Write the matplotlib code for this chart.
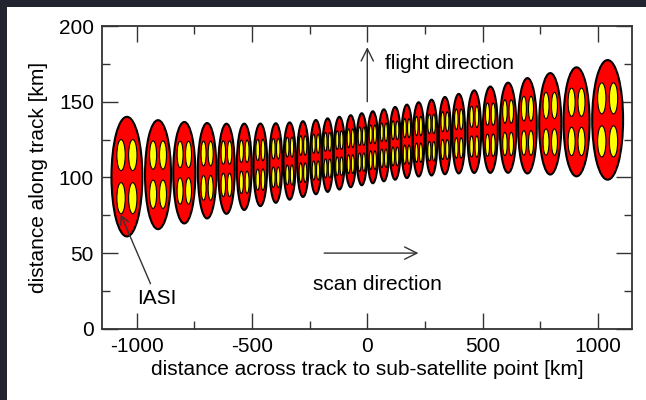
import matplotlib
matplotlib.use('Agg')
import matplotlib.pyplot as plt
from matplotlib.patches import Ellipse, Rectangle
from matplotlib.ticker import MultipleLocator

plt.rcParams['font.family'] = ['Liberation Sans', 'DejaVu Sans']
plt.rcParams['font.size'] = 15
plt.rcParams['axes.unicode_minus'] = False

# footprint (EFOV) centres and sizes in km, left to right across the scan
efov_x = [-1043, -908, -794, -695, -611, -534, -464, -397, -337, -279, -223, -172, -121, -72, -24,
          24, 72, 121, 172, 223, 279, 337, 397, 464, 534, 611, 695, 794, 908, 1043]
efov_y = [100.5, 101.8, 103.1, 104.4, 105.7, 107.0, 108.3, 109.5, 110.8, 112.1, 113.4, 114.7, 116.0, 117.3, 118.6,
          119.9, 121.2, 122.5, 123.8, 125.1, 126.3, 127.6, 128.9, 130.2, 131.5, 132.8, 134.1, 135.4, 136.7, 138.0]
efov_w = [134, 113, 96, 81, 72, 65, 60, 56, 53, 51, 50, 49, 49, 48, 48,
          48, 48, 49, 49, 50, 51, 53, 56, 60, 65, 72, 81, 96, 113, 134]
efov_h = [79, 72, 67, 63, 59.5, 57, 54.5, 52.5, 51, 50, 49, 48.5, 48, 47.5, 47.5,
          47.5, 47.5, 48, 48.5, 49, 50, 51, 52.5, 54.5, 57, 59.5, 63, 67, 72, 79]

# 2x2 IFOVs inside each EFOV, relative to the EFOV size
ifov_dx = 0.19
ifov_dy = 0.18
ifov_w = 0.27
ifov_h = 0.26

fig = plt.figure(figsize=(6.46, 4.0), dpi=100)
fig.patch.set_facecolor('#22252f')
fig.add_artist(Rectangle((7 / 646, 0), 1, 1 - 7 / 400, transform=fig.transFigure,
                         facecolor='white', edgecolor='none', zorder=-10))
ax = fig.add_axes([0.1583, 0.178, 0.8205, 0.757])

for x, y, w, h in zip(efov_x, efov_y, efov_w, efov_h):
    ax.add_patch(Ellipse((x, y), w, h, facecolor='red', edgecolor='black', lw=1.5, zorder=2))
    for sx in (-1, 1):
        for sy in (-1, 1):
            ax.add_patch(Ellipse((x + sx * ifov_dx * w, y + sy * ifov_dy * h), ifov_w * w, ifov_h * h,
                                 facecolor='yellow', edgecolor='black', lw=0.8, zorder=3))

arrow = dict(arrowstyle='->', color='#333333', lw=1.0, mutation_scale=22, shrinkA=0, shrinkB=0)
ax.annotate('', xy=(0, 186), xytext=(0, 150), arrowprops=arrow, zorder=5)
ax.text(76, 175.5, 'flight direction', ha='left', va='center')
ax.annotate('', xy=(222, 50), xytext=(-187, 50), arrowprops=arrow, zorder=5)
ax.text(46, 29, 'scan direction', ha='center', va='center')
ax.annotate('IASI', xy=(-1070, 75.5), xytext=(-913, 20), ha='center', va='center', zorder=5,
            arrowprops=dict(arrowstyle='->', color='#333333', lw=1.0, mutation_scale=15, shrinkB=0))

ax.set_xlim(-1150, 1150)
ax.set_ylim(0, 200)
ax.xaxis.set_major_locator(MultipleLocator(500))
ax.xaxis.set_minor_locator(MultipleLocator(250))
ax.yaxis.set_major_locator(MultipleLocator(50))
ax.yaxis.set_minor_locator(MultipleLocator(25))
ax.tick_params(which='both', direction='in', top=True, right=True, width=1.0, colors='#333333',
               labelcolor='black')
ax.tick_params(which='major', length=11.5, pad=6)
ax.tick_params(which='minor', length=5.5)
for s in ax.spines.values():
    s.set_linewidth(1.3)
    s.set_color('#333333')

ax.set_xlabel('distance across track to sub-satellite point [km]', labelpad=3)
ax.set_ylabel('distance along track [km]', labelpad=8)

fig.savefig('out.png', dpi=100, facecolor=fig.get_facecolor())
